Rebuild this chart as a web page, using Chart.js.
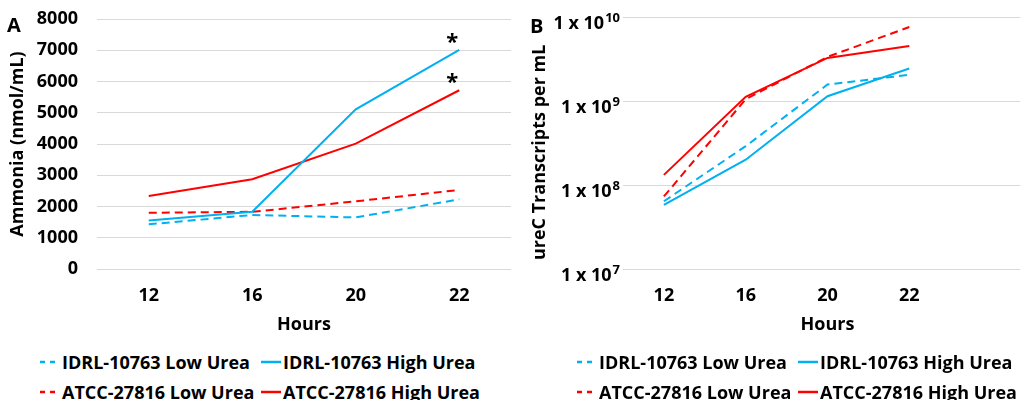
<!DOCTYPE html>
<html>
<head>
<meta charset="utf-8">
<script src="https://cdn.jsdelivr.net/npm/chart.js@4.4.0/dist/chart.umd.min.js"></script>
<style>
  html, body { margin: 0; padding: 0; background: #fff; overflow: hidden; }
  body { width: 1020px; height: 400px; position: relative; font-family: "Open Sans", sans-serif; color: #000; }
  #chartA { position: absolute; left: 0; top: 0; }
  #chartB { position: absolute; left: 510px; top: 0; }
  .tag { position: absolute; font: bold 20px "Open Sans"; line-height: 20px; }
  .legend { position: absolute; top: 347px; display: grid; grid-template-columns: 221px auto; }
  .legend .item { display: flex; align-items: center; height: 30px; font: bold 18px "Open Sans"; white-space: nowrap; }
  .legend svg { margin-right: 2px; }
</style>
</head>
<body>
<canvas id="chartA" width="511" height="340"></canvas>
<canvas id="chartB" width="522" height="340"></canvas>
<div class="tag" style="left:7px; top:15px;">A</div>
<div class="tag" style="left:530px; top:16px;">B</div>
<div class="legend" id="legendA" style="left:40px;"></div>
<div class="legend" id="legendB" style="left:577px;"></div>
<script>
// 共用：時間點與系列
const hours = ['12', '16', '20', '22'];
const hoursB = ['12', '16', '20', '22', ''];   // B 圖右側多留一格空白
const seriesNames = ['IDRL-10763 Low Urea', 'IDRL-10763 High Urea', 'ATCC-27816 Low Urea', 'ATCC-27816 High Urea'];
const seriesColors = ['#00B0F0', '#00B0F0', '#FF0000', '#FF0000'];
const seriesDashed = [true, false, true, false];

// A 圖：Ammonia (nmol/mL)
const ammoniaIdrlLow = [1430, 1730, 1650, 2230];
const ammoniaIdrlHigh = [1550, 1830, 5110, 7010];
const ammoniaAtccLow = [1800, 1830, 2165, 2530];
const ammoniaAtccHigh = [2335, 2870, 4010, 5720];
const starredSeries = [1, 3];  // 22 小時標 *

// B 圖：ureC Transcripts per mL
const ureIdrlLow = [6.4e7, 2.9e8, 1.57e9, 2.05e9];
const ureIdrlHigh = [5.8e7, 2.0e8, 1.14e9, 2.44e9];
const ureAtccLow = [7.3e7, 1.05e9, 3.35e9, 7.6e9];
const ureAtccHigh = [1.32e8, 1.12e9, 3.26e9, 4.53e9];
const ureTicks = [1e7, 1e8, 1e9, 1e10];

const FONT = 'Open Sans';
const tickFont = { family: FONT, size: 18, weight: 'bold' };
const titleFont = { family: FONT, size: 18, weight: 'bold' };
const gridColor = '#d9d9d9';

function makeDatasets(allValues) {
    return allValues.map((values, i) => ({
        label: seriesNames[i],
        data: values,
        borderColor: seriesColors[i],
        backgroundColor: seriesColors[i],
        borderWidth: 2,
        borderDash: seriesDashed[i] ? [8, 5] : [],
        pointRadius: 0,
        tension: 0,
        fill: false
    }));
}

function hoursAxis() {
    return {
        offset: true,
        grid: { display: false, drawTicks: false },
        border: { display: false },
        ticks: { color: '#000', font: tickFont, padding: 16, maxRotation: 0, autoSkip: false },
        title: { display: true, text: 'Hours', color: '#000', font: titleFont, padding: { top: 0, bottom: 4 } },
        afterFit: s => { s.height = 71; }
    };
}

// 在 22 小時的點上方畫 *
const starMarks = {
    id: 'starMarks',
    afterDatasetsDraw(chart) {
        const ctx = chart.ctx;
        ctx.save();
        ctx.fillStyle = '#000';
        ctx.font = `bold 22px "${FONT}"`;
        ctx.textAlign = 'center';
        ctx.textBaseline = 'alphabetic';
        starredSeries.forEach(i => {
            const pts = chart.getDatasetMeta(i).data;
            const p = pts[pts.length - 1];
            ctx.fillText('*', p.x - 7, p.y - 1);
        });
        ctx.restore();
    }
};

// B 圖 y 軸標籤：1 x 10^n
const powerLabels = {
    id: 'powerLabels',
    afterDraw(chart) {
        const { ctx } = chart;
        const y = chart.scales.y;
        const right = 110;
        ctx.save();
        ctx.fillStyle = '#000';
        ctx.textBaseline = 'alphabetic';
        y.ticks.forEach(t => {
            const py = y.getPixelForValue(t.value);
            const exp = String(Math.round(Math.log10(t.value)));
            ctx.font = `bold 13px "${FONT}"`;
            const ew = ctx.measureText(exp).width;
            ctx.textAlign = 'left';
            ctx.fillText(exp, right - ew, py + 5);
            ctx.font = `bold 18px "${FONT}"`;
            ctx.textAlign = 'right';
            ctx.fillText('1 x 10', right - ew - 1, py + 12);
        });
        ctx.restore();
    }
};

function buildLegend(el) {
    seriesNames.forEach((name, i) => {
        const item = document.createElement('div');
        item.className = 'item';
        const dash = seriesDashed[i] ? ' stroke-dasharray="5 5"' : '';
        item.innerHTML = `<svg width="20" height="4"><line x1="0" y1="2" x2="20" y2="2" stroke="${seriesColors[i]}" stroke-width="2.5"${dash}/></svg><span>${name}</span>`;
        el.appendChild(item);
    });
}

function drawCharts() {
    new Chart(document.getElementById('chartA'), {
        type: 'line',
        data: {
            labels: hours,
            datasets: makeDatasets([ammoniaIdrlLow, ammoniaIdrlHigh, ammoniaAtccLow, ammoniaAtccHigh])
        },
        options: {
            responsive: false,
            devicePixelRatio: 1,
            animation: false,
            layout: { padding: { top: 19, left: 0, right: 0, bottom: 0 } },
            plugins: { legend: { display: false }, tooltip: { enabled: false } },
            scales: {
                x: hoursAxis(),
                y: {
                    min: 0, max: 8000,
                    ticks: { stepSize: 1000, color: '#000', font: tickFont, padding: 19, callback: v => String(v) },
                    grid: { color: gridColor, lineWidth: 1, drawTicks: false },
                    border: { display: false },
                    title: { display: true, text: 'Ammonia (nmol/mL)', color: '#000', font: titleFont, padding: { top: 7, bottom: 0 } },
                    afterFit: s => { s.width = 97; s.paddingTop = 11; s.paddingBottom = 11; }
                }
            }
        },
        plugins: [starMarks]
    });

    new Chart(document.getElementById('chartB'), {
        type: 'line',
        data: {
            labels: hoursB,
            datasets: makeDatasets([ureIdrlLow, ureIdrlHigh, ureAtccLow, ureAtccHigh])
        },
        options: {
            responsive: false,
            devicePixelRatio: 1,
            animation: false,
            layout: { padding: { top: 17, left: 0, right: 0, bottom: 0 } },
            plugins: { legend: { display: false }, tooltip: { enabled: false } },
            scales: {
                x: hoursAxis(),
                y: {
                    type: 'logarithmic',
                    min: 1e7, max: 1e10,
                    afterBuildTicks: s => { s.ticks = ureTicks.map(v => ({ value: v })); },
                    ticks: { display: false },
                    grid: { color: gridColor, lineWidth: 1, drawTicks: false },
                    border: { display: false },
                    // 結尾空白讓標題稍微往下
                    title: { display: true, text: 'ureC Transcripts per mL    ', color: '#000', font: titleFont, padding: { top: 19, bottom: 0 } },
                    afterFit: s => { s.width = 113; s.paddingTop = 0; s.paddingBottom = 0; }
                }
            }
        },
        plugins: [powerLabels]
    });

    buildLegend(document.getElementById('legendA'));
    buildLegend(document.getElementById('legendB'));
}

document.fonts.load(`bold 18px "${FONT}"`).then(drawCharts, drawCharts);
</script>
</body>
</html>
